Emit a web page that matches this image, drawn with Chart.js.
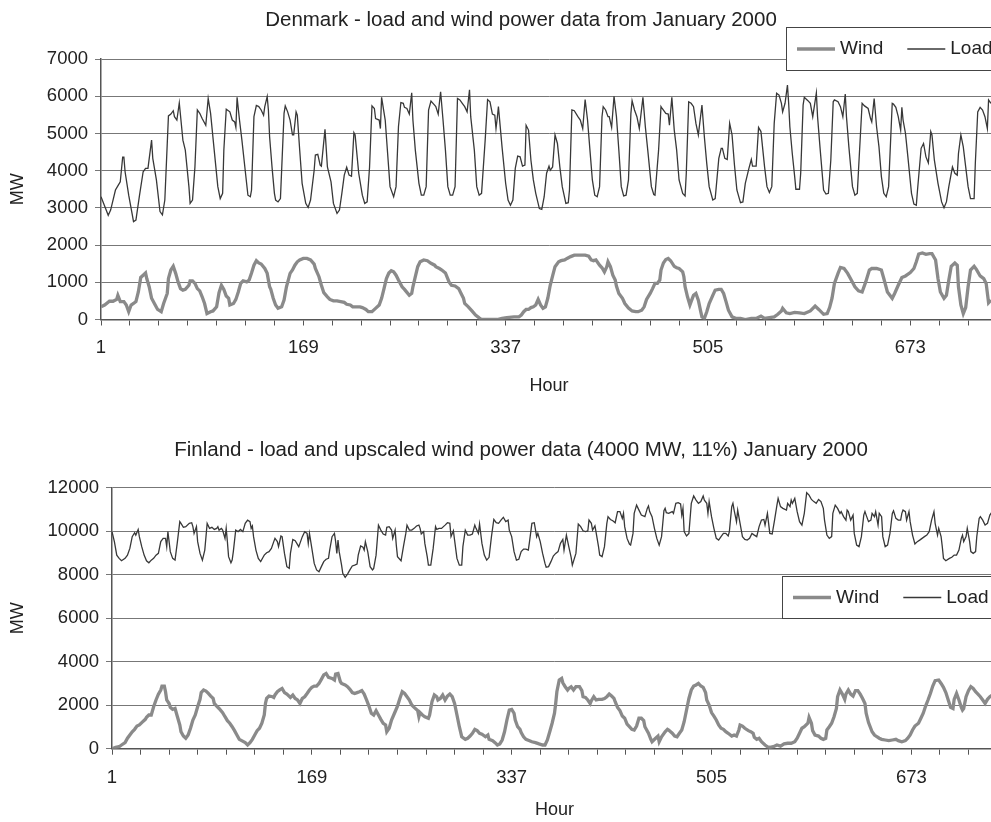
<!DOCTYPE html>
<html>
<head>
<meta charset="UTF-8">
<title>Denmark and Finland - load and wind power, January 2000</title>
<script src="https://cdn.jsdelivr.net/npm/chart.js"></script>
<style>
  html, body { margin: 0; padding: 0; background: #fff; overflow: hidden; }
  #wrap { position: relative; width: 991px; height: 822px; overflow: hidden; }
  canvas { position: absolute; left: 0; }
  #dk { top: 0; }
  #fi { top: 400px; }
</style>
</head>
<body>
<div id="wrap">
  <canvas id="dk" width="1042" height="400"></canvas>
  <canvas id="fi" width="1042" height="422"></canvas>
</div>

<script>
// ---- data: [hour, MW] ----
const dkTitle = 'Denmark - load and wind power data from January 2000';
const fiTitle = 'Finland - load and upscaled wind power data (4000 MW, 11%) January 2000';
const seriesNames = ['Wind', 'Load'];
const xTickLabels = [1, 169, 337, 505, 673];
const dkYTicks = [0, 1000, 2000, 3000, 4000, 5000, 6000, 7000];
const fiYTicks = [0, 2000, 4000, 6000, 8000, 10000, 12000];

const dkLoad = [
  [1,3300],[7,2800],[9,2940],[13,3480],[15,3590],[17,3700],[19,4360],[20,4360],[21,3970],[24,3340],
  [27,2810],[28,2630],[30,2670],[33,3340],[36,3970],[38,4060],[40,4060],[43,4820],[44,4330],[47,3750],
  [50,2900],[52,2810],[54,3210],[57,5470],[59,5520],[61,5610],[62,5450],[64,5360],[66,5820],[67,5490],
  [69,4820],[71,4550],[74,3570],[75,3120],[77,3210],[79,4100],[81,5630],[83,5540],[85,5400],[88,5220],
  [90,5940],[92,5540],[95,4550],[98,3570],[100,3250],[102,3390],[103,4550],[105,5650],[108,5580],[110,5360],
  [112,5310],[113,5160],[114,5970],[116,5360],[118,4820],[121,3930],[123,3340],[125,3300],[126,3480],[128,5450],
  [130,5750],[132,5720],[134,5630],[136,5490],[137,5720],[139,5990],[140,5630],[141,4910],[143,4100],[145,3390],
  [146,3210],[148,3160],[150,3250],[153,5540],[154,5740],[156,5580],[158,5360],[160,4960],[161,4960],[163,5580],
  [164,5490],[166,4550],[168,3660],[171,3120],[173,3010],[175,3210],[178,4010],[179,4420],[181,4440],[183,4150],
  [184,4120],[187,5110],[189,4100],[192,3700],[194,3120],[197,2850],[199,2940],[201,3390],[203,3880],[205,4090],
  [207,3880],[209,3850],[211,5020],[212,4960],[215,3930],[218,3340],[220,3120],[222,3160],[224,4100],[226,5740],
  [228,5670],[229,5400],[232,5360],[233,5130],[234,5970],[237,5360],[239,4460],[241,3570],[244,3300],[246,3570],
  [248,5180],[250,5830],[252,5810],[253,5700],[255,5670],[257,5520],[259,6090],[260,5360],[262,4550],[265,3660],
  [267,3340],[269,3340],[271,3570],[273,5630],[275,5870],[278,5760],[279,5720],[281,5520],[283,6120],[285,5360],
  [287,4550],[289,3570],[291,3340],[293,3340],[295,3570],[297,5940],[299,5900],[301,5810],[303,5720],[305,5580],
  [307,6170],[308,5450],[311,4550],[313,3570],[315,3340],[317,3390],[320,4820],[322,5910],[324,5850],[326,5520],
  [328,5490],[329,5130],[330,5400],[331,5720],[334,4640],[337,3660],[339,3210],[341,3070],[343,3210],[345,4060],
  [347,4390],[349,4370],[351,4120],[353,4150],[354,5220],[356,5090],[358,4280],[360,3750],[362,3390],[365,2980],
  [367,2960],[369,3300],[371,3930],[373,4120],[374,4010],[376,4100],[378,4960],[380,4730],[382,4100],[384,3570],
  [387,3120],[389,3140],[390,3480],[392,5630],[394,5610],[397,5450],[399,5360],[401,5130],[403,5910],[405,5360],
  [407,4550],[409,3750],[411,3340],[413,3300],[415,3570],[417,5450],[418,5720],[420,5630],[422,5450],[423,5450],
  [425,5160],[427,6000],[429,5450],[431,4550],[433,3570],[435,3320],[437,3340],[439,3750],[441,5540],[442,5880],
  [444,5630],[446,5450],[448,5130],[451,5970],[453,5180],[455,4550],[458,3570],[460,3360],[461,3340],[464,4550],
  [466,5720],[467,5670],[470,5540],[472,5520],[473,5220],[475,5970],[477,5090],[479,4550],[481,3750],[484,3390],
  [486,3320],[487,3930],[489,5850],[491,5810],[493,5720],[495,5270],[497,4960],[500,5760],[502,4910],[504,4190],
  [506,3570],[509,3210],[511,3250],[514,4330],[516,4600],[517,4600],[519,4330],[521,4300],[523,5270],[525,4960],
  [527,4150],[529,3480],[532,3140],[534,3160],[536,3660],[539,4060],[541,4300],[542,4120],[545,4120],[547,5160],
  [549,5050],[552,4100],[554,3570],[556,3410],[558,3570],[560,5270],[562,6080],[564,6030],[566,5810],[567,5580],
  [569,5810],[571,6300],[572,5810],[573,5180],[575,4460],[577,3840],[578,3500],[581,3500],[582,3930],[584,5760],
  [585,5970],[588,5880],[590,5810],[592,5450],[595,6090],[596,5450],[598,4640],[601,3480],[603,3370],[605,3390],
  [607,4280],[609,5850],[610,5900],[613,5850],[615,5720],[617,5450],[619,6060],[620,5450],[622,4640],[625,3570],
  [627,3340],[629,3390],[630,4010],[633,5810],[635,5740],[638,5670],[640,5400],[641,5310],[643,5940],[645,5180],
  [647,4640],[649,3840],[651,3390],[653,3300],[655,3570],[658,5810],[659,5790],[661,5700],[663,5450],[665,5090],
  [666,5700],[667,5360],[669,5000],[671,4370],[674,3390],[676,3100],[678,3070],[679,3480],[682,4600],[684,4730],
  [686,4370],[688,4210],[690,5050],[691,4960],[693,4280],[696,3660],[699,3160],[701,3000],[703,3160],[705,3570],
  [708,4100],[710,3930],[712,3880],[713,4460],[715,4960],[717,4640],[719,4100],[721,3570],[723,3250],[726,3250],
  [727,4190],[729,5580],[731,5700],[733,5630],[735,5450],[737,5130],[738,5900],[740,5810]
];

const dkWind = [
  [1,340],[4,390],[8,490],[11,490],[14,540],[15,650],[17,480],[20,480],[22,390],[24,210],
  [26,390],[28,430],[30,480],[32,740],[34,1130],[36,1190],[38,1250],[39,1100],[41,880],[43,570],
  [46,390],[48,270],[51,210],[53,430],[56,700],[57,1100],[59,1330],[61,1430],[63,1240],[65,1010],
  [67,830],[69,790],[71,810],[74,920],[75,1040],[77,1040],[79,970],[81,830],[83,770],[85,610],
  [87,430],[89,160],[92,210],[94,230],[97,340],[99,720],[101,920],[103,810],[105,630],[107,570],
  [108,390],[111,430],[113,540],[115,740],[117,970],[119,1040],[122,1010],[124,1060],[126,1250],[128,1460],
  [130,1580],[132,1520],[134,1490],[137,1370],[139,1240],[141,880],[142,810],[144,570],[146,390],[148,300],
  [151,340],[153,520],[155,880],[158,1240],[160,1330],[162,1460],[164,1550],[166,1600],[169,1640],[172,1640],
  [175,1600],[178,1490],[179,1370],[182,1150],[184,920],[186,720],[189,610],[191,540],[194,500],[197,500],
  [200,480],[203,460],[205,410],[208,390],[210,340],[213,340],[216,340],[218,320],[221,270],[223,210],
  [226,210],[229,300],[232,390],[234,570],[236,830],[238,1100],[240,1250],[242,1310],[244,1280],[246,1190],
  [248,1060],[251,880],[253,810],[254,770],[257,650],[259,700],[260,880],[262,1150],[264,1420],[266,1550],
  [269,1600],[272,1580],[275,1510],[278,1460],[279,1420],[282,1370],[284,1330],[287,1250],[290,1010],[292,920],
  [295,900],[298,830],[300,700],[302,570],[303,430],[306,340],[309,230],[312,120],[315,45],[317,0],
  [322,0],[326,0],[330,0],[334,30],[338,50],[344,70],[348,70],[350,120],[352,210],[354,270],
  [356,270],[358,320],[360,340],[362,390],[364,540],[366,390],[368,300],[370,340],[372,570],[374,920],
  [376,1170],[378,1420],[381,1550],[383,1580],[386,1600],[388,1640],[391,1690],[394,1730],[397,1730],[399,1730],
  [403,1730],[406,1700],[408,1600],[410,1580],[412,1600],[415,1460],[417,1390],[419,1280],[421,1420],[422,1550],
  [424,1420],[426,1190],[428,1060],[429,900],[431,700],[434,570],[436,430],[439,310],[442,230],[445,210],
  [447,210],[450,250],[452,340],[454,540],[457,700],[459,830],[461,970],[463,970],[465,1060],[466,1330],
  [468,1520],[470,1610],[472,1640],[474,1580],[477,1430],[479,1390],[481,1370],[484,1280],[485,1150],[486,880],
  [488,610],[490,390],[491,480],[493,650],[495,700],[497,520],[499,210],[500,70],[502,30],[504,210],
  [506,430],[509,650],[511,790],[514,810],[516,810],[518,700],[520,480],[522,250],[525,70],[528,30],
  [532,30],[536,0],[541,30],[545,30],[549,90],[552,30],[556,50],[560,70],[563,140],[566,230],
  [567,300],[570,180],[573,160],[577,190],[581,180],[585,160],[590,230],[594,360],[597,270],[601,140],
  [604,160],[606,320],[608,570],[610,970],[613,1240],[615,1400],[618,1370],[621,1240],[624,1060],[627,880],
  [630,770],[633,740],[636,1010],[639,1330],[641,1370],[645,1370],[649,1330],[651,1100],[654,740],[658,570],
  [660,700],[663,920],[666,1130],[669,1170],[673,1260],[676,1370],[678,1550],[680,1760],[683,1790],[686,1750],
  [689,1770],[691,1770],[694,1600],[696,1100],[698,740],[701,570],[703,650],[705,1060],[707,1430],[710,1520],
  [712,1460],[713,880],[715,390],[717,160],[719,320],[721,880],[723,1330],[726,1430],[728,1340],[731,1170],
  [734,1100],[736,970],[738,450],[740,520]
];

const fiLoad = [
  [1,9980],[3,9520],[5,8900],[7,8750],[9,8640],[12,8750],[14,8900],[16,9210],[18,9750],[20,9930],
  [21,9820],[23,10080],[24,9750],[26,9290],[28,8900],[30,8640],[32,8550],[34,8670],[36,8750],[38,8900],
  [40,8980],[42,9520],[44,9670],[46,9670],[47,9290],[48,9980],[50,9060],[52,8750],[54,8670],[56,9520],
  [58,10440],[59,10360],[61,10180],[63,10210],[66,10360],[68,10390],[69,10210],[70,9900],[72,10210],[73,9520],
  [75,8980],[77,8670],[79,9130],[81,10360],[83,10130],[85,10180],[87,10080],[89,10130],[90,10210],[91,10050],
  [93,10130],[94,10050],[96,9670],[97,10130],[98,9520],[99,8830],[101,8550],[102,8670],[103,9060],[105,10050],
  [107,9980],[109,10080],[111,9980],[113,10360],[115,10510],[117,10440],[118,10130],[119,10240],[120,9750],[122,9130],
  [124,8750],[126,8600],[128,8800],[129,8900],[131,9010],[133,9060],[135,9210],[137,9520],[138,9670],[140,9520],
  [141,9290],[143,9780],[144,9750],[146,8980],[148,8370],[150,8290],[151,8980],[153,9620],[155,9560],[158,9290],
  [159,9440],[161,9750],[163,9980],[165,9900],[166,9440],[167,9900],[169,9210],[171,8520],[173,8220],[175,8140],
  [177,8370],[179,8600],[181,8710],[183,8750],[184,9130],[186,9750],[188,9900],[189,9520],[190,8980],[191,9590],
  [192,9060],[194,8440],[195,8060],[197,7880],[199,8030],[201,8220],[203,8400],[205,8440],[207,8490],[208,8900],
  [210,9320],[212,9260],[213,9130],[214,9520],[216,9060],[218,8370],[220,8220],[221,8290],[223,8900],[225,10280],
  [227,10050],[229,9870],[231,9820],[232,10180],[234,10210],[236,10050],[237,9670],[239,10050],[240,9360],[241,8830],
  [244,8640],[246,9290],[248,9900],[249,10280],[251,10050],[253,10050],[255,10130],[257,10240],[259,10280],[260,10130],
  [261,9870],[263,9980],[264,9440],[266,8830],[267,8440],[269,8440],[271,9210],[273,10210],[274,10080],[276,10130],
  [278,10130],[281,10280],[283,10390],[285,10360],[286,9750],[288,10020],[289,9590],[291,8750],[293,8440],[295,8440],
  [296,9290],[298,10050],[300,9820],[302,9820],[304,9870],[306,10280],[307,10130],[309,9900],[310,10330],[312,9440],
  [314,8900],[316,8670],[318,8800],[320,9750],[322,10540],[324,10390],[326,10360],[328,10510],[330,10640],[332,10440],
  [334,10510],[335,10050],[337,9750],[339,9060],[341,8670],[343,8710],[345,9060],[347,9180],[349,9180],[351,9130],
  [352,9520],[354,10360],[356,10390],[358,9750],[359,9900],[361,9520],[363,8980],[365,8520],[366,8340],[368,8370],
  [370,8600],[372,8860],[374,8980],[376,9060],[378,9440],[380,9620],[381,9130],[383,9820],[385,9290],[387,8800],
  [388,8440],[391,8980],[393,10330],[395,10210],[397,10020],[399,9980],[401,10010],[402,10510],[404,10360],[405,10050],
  [407,10240],[408,9930],[410,9290],[411,8900],[413,8830],[415,9290],[417,10360],[418,10670],[420,10540],[422,10480],
  [424,10390],[426,10900],[428,10900],[430,10590],[431,10820],[432,10210],[434,9670],[436,9410],[437,9360],[439,9900],
  [440,10820],[442,11200],[444,10970],[446,10740],[449,10670],[451,11050],[452,11160],[453,10900],[455,10670],[457,10130],
  [459,9670],[461,9360],[463,9750],[465,10940],[466,11050],[467,10850],[469,10820],[472,10900],[473,10820],[475,11280],
  [477,11310],[479,11250],[480,10740],[481,11050],[482,9980],[484,9780],[486,9900],[488,11280],[490,11620],[492,11430],
  [494,11280],[496,11360],[498,11620],[499,11430],[501,11280],[502,10820],[503,11360],[505,10670],[507,10130],[509,9670],
  [511,9590],[513,9750],[515,9900],[517,9900],[519,9780],[520,9980],[522,11130],[523,11280],[524,10970],[526,10440],
  [527,10970],[529,10360],[531,9750],[533,9620],[535,9590],[537,9670],[539,9900],[541,9820],[543,9750],[545,10210],
  [547,10510],[549,10540],[550,10280],[552,10820],[553,10360],[554,9900],[556,9870],[558,10510],[560,11200],[561,11510],
  [563,11130],[565,11050],[568,10970],[569,11280],[571,11130],[572,11430],[573,11280],[575,11510],[577,10900],[579,10440],
  [581,10280],[583,10820],[585,11770],[587,11660],[589,11460],[591,11360],[593,11280],[595,11460],[597,11360],[599,11050],
  [600,10510],[602,9820],[604,9670],[606,9750],[607,10820],[609,11200],[611,11050],[613,10820],[614,10900],[616,10670],
  [618,10510],[619,10970],[620,10900],[622,10510],[624,10740],[625,9900],[627,9360],[629,9290],[631,9750],[633,10740],
  [634,10900],[635,10740],[637,10440],[639,10510],[640,10820],[642,10670],[643,10900],[645,10280],[646,10820],[648,10670],
  [649,9750],[651,9290],[653,9360],[655,9900],[657,10820],[658,10940],[660,10590],[662,10510],[664,10510],[665,10820],
  [666,10970],[668,10900],[669,10510],[671,10900],[672,10440],[674,9820],[676,9410],[678,9520],[680,9590],[682,9670],
  [684,9750],[686,9820],[688,9980],[690,10510],[692,10900],[693,10360],[695,9820],[696,10130],[698,9750],[699,9290],
  [700,8750],[702,8640],[705,8750],[707,8800],[709,8900],[711,8900],[713,9130],[715,9670],[716,9820],[717,9520],
  [719,9750],[720,10130],[722,9520],[723,9060],[725,8980],[727,9060],[728,9750],[730,10590],[731,10670],[733,10510],
  [735,10280],[737,10360],[739,10740],[741,10900]
];

const fiWind = [
  [1,0],[4,60],[7,90],[9,170],[12,280],[14,480],[16,630],[18,780],[20,890],[22,1040],
  [24,1090],[26,1200],[29,1350],[30,1440],[32,1550],[34,1550],[36,1930],[38,2240],[40,2510],[42,2700],
  [43,2880],[45,2880],[46,2620],[47,2240],[49,2080],[50,1900],[52,1810],[54,1850],[56,1470],[58,1090],
  [59,780],[61,580],[63,480],[65,630],[67,940],[69,1320],[71,1550],[73,1930],[75,2270],[76,2580],
  [78,2700],[80,2650],[82,2540],[84,2420],[86,2310],[87,2080],[89,1960],[91,1850],[94,1660],[96,1470],
  [98,1290],[100,1170],[102,1010],[104,830],[106,630],[108,430],[110,370],[113,280],[115,170],[117,280],
  [119,430],[121,630],[123,830],[125,940],[127,1170],[129,1550],[130,2080],[131,2310],[133,2420],[136,2390],
  [137,2360],[138,2470],[140,2620],[142,2700],[144,2770],[146,2580],[148,2510],[151,2360],[153,2470],[155,2310],
  [157,2240],[159,2080],[161,2310],[163,2390],[165,2540],[167,2700],[169,2820],[171,2880],[173,2880],[175,3000],
  [177,3190],[179,3390],[181,3460],[183,3280],[186,3230],[188,3160],[189,3430],[191,3460],[193,3080],[194,3000],
  [197,2930],[199,2850],[201,2730],[203,2580],[205,2540],[207,2580],[209,2620],[211,2670],[213,2510],[215,2240],
  [217,1960],[219,1630],[221,1550],[223,1750],[225,1550],[227,1350],[229,1170],[231,1090],[232,780],[234,940],
  [236,1320],[239,1700],[241,1960],[243,2310],[245,2620],[247,2540],[249,2390],[251,2240],[253,2010],[255,1900],
  [258,1750],[259,1470],[260,1660],[262,1550],[264,1470],[267,1400],[268,1550],[270,2160],[272,2470],[274,2390],
  [275,2240],[277,2310],[279,2470],[281,2240],[283,2420],[285,2510],[287,2390],[289,2080],[291,1550],[293,1010],
  [295,550],[298,430],[300,480],[302,580],[304,710],[306,890],[308,830],[310,710],[312,670],[315,550],
  [317,630],[318,430],[321,370],[323,280],[325,170],[327,220],[329,400],[331,780],[333,1320],[335,1780],
  [337,1810],[339,1630],[340,1320],[342,1010],[344,890],[345,740],[347,550],[349,430],[352,370],[354,320],
  [357,280],[360,220],[363,170],[365,170],[367,400],[369,780],[371,1170],[373,1630],[374,2080],[375,2620],
  [377,3160],[379,3230],[380,3030],[382,2850],[384,2700],[385,2770],[387,2850],[389,2700],[391,2850],[394,2850],
  [396,2670],[397,2390],[399,2360],[401,2240],[403,2080],[404,2210],[406,2390],[408,2240],[410,2270],[413,2270],
  [415,2310],[417,2390],[419,2510],[421,2420],[423,2310],[424,2160],[426,1900],[428,1750],[430,1500],[432,1400],
  [434,1130],[436,1010],[438,890],[440,860],[442,1040],[444,1400],[446,1400],[448,1290],[449,1010],[452,710],
  [454,430],[455,320],[458,480],[460,580],[461,320],[463,550],[466,780],[468,890],[469,860],[472,710],
  [474,580],[476,550],[478,710],[480,860],[482,1240],[484,1780],[486,2310],[488,2700],[490,2880],[492,2930],
  [494,3000],[496,2880],[498,2820],[500,2580],[501,2240],[503,2010],[505,1660],[507,1500],[509,1320],[511,1090],
  [513,940],[515,890],[517,780],[519,710],[522,580],[524,630],[526,580],[528,860],[529,1090],[531,1040],
  [533,940],[536,830],[538,780],[540,710],[541,520],[543,430],[545,480],[547,320],[550,170],[552,90],
  [554,60],[557,90],[560,170],[563,120],[566,220],[569,250],[572,250],[575,320],[577,480],[579,710],
  [581,940],[583,1010],[586,1170],[587,1440],[589,1170],[590,830],[592,630],[595,580],[597,480],[599,430],
  [601,480],[602,860],[604,1010],[606,1170],[608,1470],[610,1850],[611,2390],[613,2700],[615,2510],[617,2270],
  [618,2510],[620,2700],[622,2510],[624,2420],[626,2670],[628,2670],[630,2510],[632,2310],[634,2080],[635,1630],
  [637,1200],[640,780],[642,630],[644,550],[646,480],[648,430],[651,400],[654,370],[657,400],[660,430],
  [662,370],[665,320],[668,370],[670,480],[672,630],[674,860],[676,1040],[679,1170],[681,1400],[683,1630],
  [685,1960],[687,2240],[689,2540],[691,2880],[693,3130],[696,3160],[698,3000],[700,2820],[702,2580],[704,2240],
  [706,1900],[708,1850],[709,2270],[711,2540],[713,2240],[715,1900],[716,1780],[717,1850],[719,2390],[721,2670],
  [723,2850],[725,2770],[727,2620],[729,2510],[731,2390],[733,2240],[735,2080],[737,2270],[739,2390],[741,2470]
];

// hourly axis: a tick mark every day, a label every week
const xTickHours = [];
for (let h = 1; h <= 745; h += 24) xTickHours.push(h);

const TEXT = '#222';
const WIND_COLOR = '#8a8a8a';
const LOAD_COLOR = '#383838';
const GRID_COLOR = '#777';
const AXIS_COLOR = '#555';

Chart.defaults.font.family = '"Liberation Sans", Arial, sans-serif';
Chart.defaults.color = TEXT;

// Excel-style legend: a bordered box that sits over the plot
const boxLegend = {
  id: 'boxLegend',
  afterDraw(chart, args, opts) {
    const {ctx} = chart;
    ctx.save();
    ctx.fillStyle = '#fff';
    ctx.fillRect(opts.left, opts.top, opts.width, opts.height);
    ctx.strokeStyle = '#444';
    ctx.lineWidth = 1;
    ctx.strokeRect(opts.left + 0.5, opts.top + 0.5, opts.width, opts.height);
    ctx.font = opts.fontSize + 'px "Liberation Sans", Arial, sans-serif';
    ctx.textBaseline = 'middle';
    const cy = opts.top + opts.height / 2 + 0.5;
    let x = opts.left + 11;
    chart.data.datasets.forEach(ds => {
      ctx.strokeStyle = ds.borderColor;
      ctx.lineWidth = ds.borderWidth;
      ctx.beginPath();
      ctx.moveTo(x, cy);
      ctx.lineTo(x + 38, cy);
      ctx.stroke();
      x += 43;
      ctx.fillStyle = TEXT;
      ctx.fillText(ds.label, x, cy);
      x += ctx.measureText(ds.label).width + 24;
    });
    ctx.restore();
  }
};

const toXY = rows => rows.map(([x, y]) => ({x, y}));

function panel(canvasId, title, wind, load, yTicks, lay) {
  return new Chart(document.getElementById(canvasId), {
    type: 'line',
    data: {
      datasets: [
        { label: seriesNames[0], data: toXY(wind), borderColor: WIND_COLOR, borderWidth: 3.3 },
        { label: seriesNames[1], data: toXY(load), borderColor: LOAD_COLOR, borderWidth: 1.3 }
      ]
    },
    options: {
      responsive: false,
      animation: false,
      events: [],
      layout: { padding: 0 },
      elements: { point: { radius: 0 }, line: { tension: 0 } },
      plugins: {
        legend: { display: false },
        tooltip: { enabled: false },
        title: {
          display: true, text: title, color: TEXT,
          font: { size: 20.5, weight: 'normal' },
          padding: lay.titlePad
        },
        boxLegend: lay.legend
      },
      scales: {
        x: {
          type: 'linear', min: 1, max: 745,
          afterFit: s => { s.height = lay.xHeight; },
          afterBuildTicks: s => { s.ticks = xTickHours.map(v => ({value: v})); },
          ticks: {
            autoSkip: false, maxRotation: 0, padding: 11.8,
            font: { size: 18.5 }, color: TEXT,
            callback: v => xTickLabels.includes(v) ? String(v) : ''
          },
          grid: { drawOnChartArea: false, drawTicks: true, tickLength: 6, color: AXIS_COLOR },
          border: { display: true, color: AXIS_COLOR, width: 1.5 },
          title: { display: true, text: 'Hour', color: TEXT, font: { size: 18 }, padding: lay.hourPad }
        },
        y: {
          min: yTicks[0], max: yTicks[yTicks.length - 1],
          afterFit: s => { s.width = lay.yWidth; },
          afterBuildTicks: s => { s.ticks = yTicks.map(v => ({value: v})); },
          ticks: { padding: 7, font: { size: 18.5 }, color: TEXT, callback: v => String(v) },
          grid: { color: GRID_COLOR, tickLength: 6 },
          border: { display: true, color: AXIS_COLOR, width: 1.5 },
          title: { display: true, text: 'MW', color: TEXT, font: { size: 18 }, padding: 7.2 }
        },
        // empty right-hand strip: the plot stops short of the chart's right edge
        gap: {
          position: 'right',
          afterFit: s => { s.width = 45; },
          ticks: { display: false },
          grid: { display: false },
          border: { display: false }
        }
      }
    },
    plugins: [boxLegend]
  });
}

panel('dk', dkTitle, dkWind, dkLoad, dkYTicks, {
  titlePad: { top: 8.2, bottom: 26.2 },
  xHeight: 80.5, yWidth: 101, hourPad: 3.2,
  legend: { left: 786, top: 27, width: 300, height: 43, fontSize: 19 }
});

panel('fi', fiTitle, fiWind, fiLoad, fiYTicks, {
  titlePad: { top: 38.2, bottom: 24.9 },
  xHeight: 73.3, yWidth: 112, hourPad: 1.2,
  legend: { left: 782, top: 176, width: 300, height: 42, fontSize: 19 }
});
</script>
</body>
</html>
